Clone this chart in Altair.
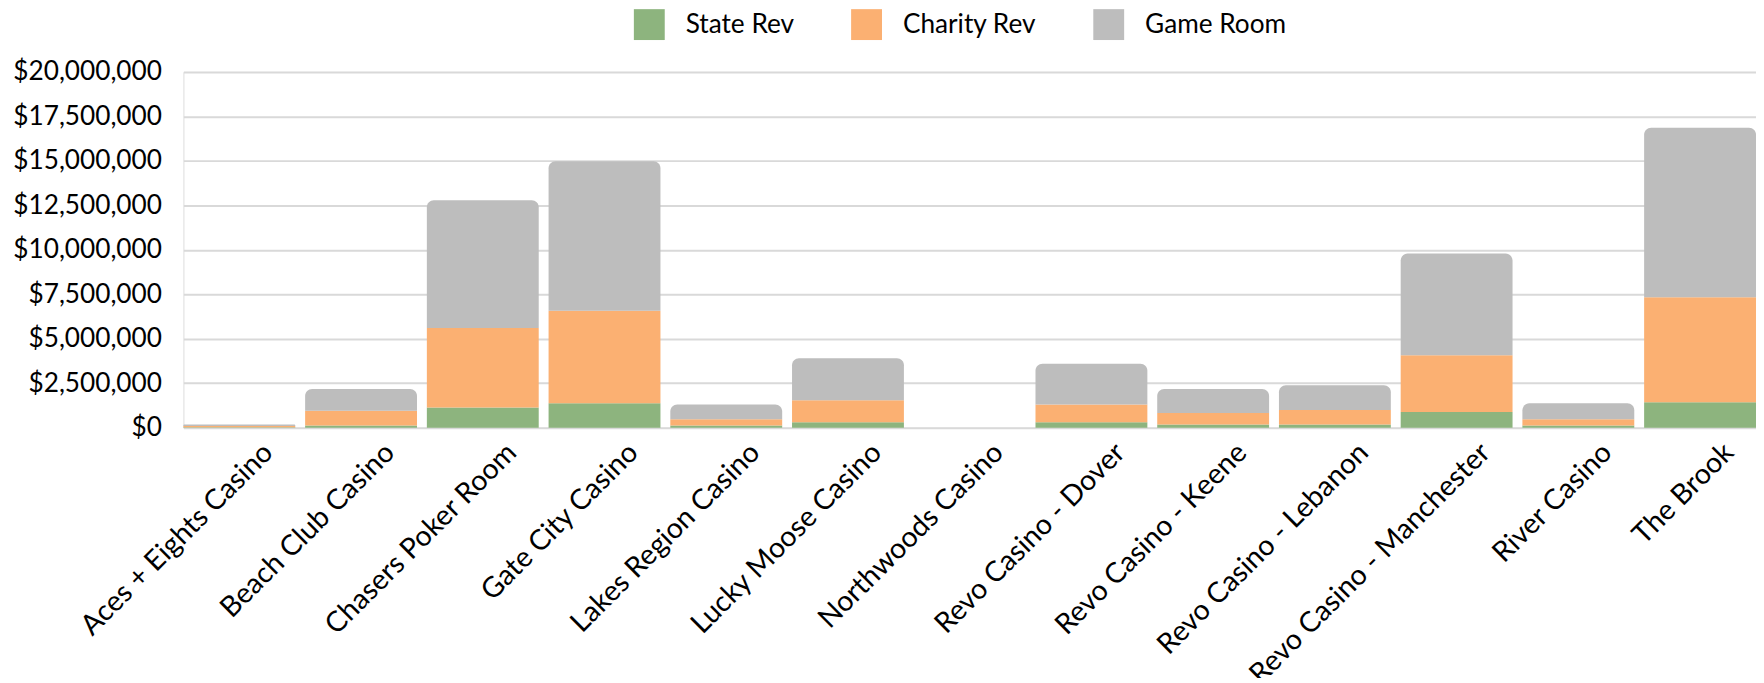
import altair as alt
import pandas as pd

casinos = [
    "Aces + Eights Casino", "Beach Club Casino", "Chasers Poker Room", "Gate City Casino",
    "Lakes Region Casino", "Lucky Moose Casino", "Northwoods Casino", "Revo Casino - Dover",
    "Revo Casino - Keene", "Revo Casino - Lebanon", "Revo Casino - Manchester", "River Casino",
    "The Brook",
]
state_rev = [20000, 120000, 1130000, 1370000, 120000, 300000, 0, 300000, 180000, 180000, 890000, 120000, 1430000]
charity_rev = [70000, 830000, 4480000, 5200000, 360000, 1250000, 0, 1010000, 650000, 820000, 3190000, 360000, 5910000]
game_room = [90000, 1220000, 7180000, 8410000, 830000, 2350000, 0, 2290000, 1340000, 1390000, 5710000, 890000, 9520000]

series = ["State Rev", "Charity Rev", "Game Room"]
colors = ["#8DB47E", "#FBB072", "#BDBDBD"]
y_ticks = [0, 2500000, 5000000, 7500000, 10000000, 12500000, 15000000, 17500000, 20000000]

rows = []
for i, c in enumerate(casinos):
    for k, (name, vals) in enumerate(zip(series, [state_rev, charity_rev, game_room])):
        rows.append({"casino": c, "series": name, "value": vals[i], "order": k})
df = pd.DataFrame(rows)

FONT = "Lato"

base = alt.Chart(df).transform_stack(
    stack="value", groupby=["casino"], as_=["lo", "hi"], sort=[alt.SortField("order")]
)

x_enc = alt.X(
    "casino:N", sort=casinos, title=None,
    scale=alt.Scale(paddingInner=0.081, paddingOuter=0),
    axis=alt.Axis(labelAngle=-45, labelFontSize=28.5, labelFont=FONT, labelColor="#000000",
                  domain=False, ticks=False, labelPadding=10, labelOffset=19,
                  labelOverlap=False, labelLimit=600),
)
y_enc = alt.Y(
    "lo:Q", title=None,
    scale=alt.Scale(domain=[0, 20000000], nice=False),
    axis=alt.Axis(values=y_ticks, format="$,.0f", labelFontSize=26.3, labelFont=FONT,
                  labelColor="#000000", domain=False, ticks=False, labelPadding=22,
                  gridColor="#D9D9D9", gridWidth=2),
)
color_enc = alt.Color(
    "series:N",
    scale=alt.Scale(domain=series, range=colors),
    legend=alt.Legend(orient="none", legendX=452, legendY=-63, direction="horizontal",
                      title=None, symbolType="square", symbolSize=960, symbolStrokeWidth=0,
                      labelFontSize=26.3, labelFont=FONT, labelColor="#000000", labelOffset=21,
                      columnPadding=57),
)

lower = base.transform_filter(alt.datum.series != "Game Room").mark_bar().encode(
    x=x_enc, y=y_enc, y2="hi:Q", color=color_enc
)
upper = base.transform_filter(alt.datum.series == "Game Room").mark_bar(
    cornerRadiusTopLeft=7, cornerRadiusTopRight=7
).encode(x=x_enc, y=y_enc, y2="hi:Q", color=color_enc)

chart = alt.layer(lower, upper).properties(
    width=1578, height=357,
    padding={"left": 176, "top": 63, "right": 0, "bottom": 250},
    autosize=alt.AutoSizeParams(type="none"),
).configure_view(stroke=None).configure(background="#FFFFFF")

chart.save("out.html", embed_options={"renderer": "svg", "actions": False})
